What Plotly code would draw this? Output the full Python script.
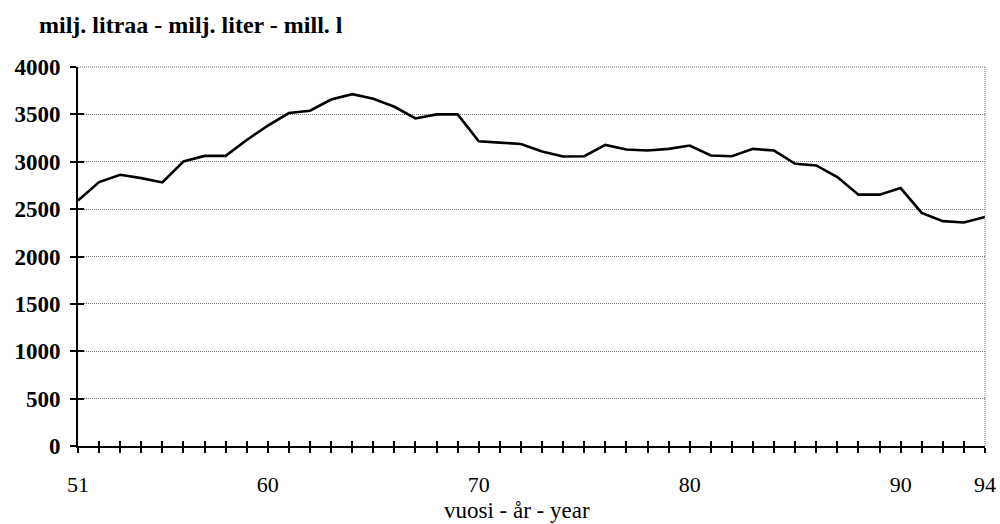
import plotly.graph_objects as go

years = list(range(1951, 1995))
values = [2590, 2785, 2863, 2827, 2782, 3003, 3062, 3062, 3230, 3381,
          3514, 3538, 3657, 3713, 3665, 3580, 3457, 3500, 3500, 3216,
          3202, 3188, 3108, 3055, 3058, 3178, 3129, 3118, 3136, 3171,
          3066, 3058, 3136, 3118, 2978, 2961, 2838, 2653, 2653, 2722,
          2460, 2373, 2359, 2418]
x_label_years = [1951, 1960, 1970, 1980, 1990, 1994]
y_ticks = [0, 500, 1000, 1500, 2000, 2500, 3000, 3500, 4000]

x_ticktext = [str(y % 100) if y in x_label_years else "" for y in years]

serif = "Liberation Serif, Times New Roman, serif"
grid_color = "#777777"

fig = go.Figure()
fig.add_trace(go.Scatter(x=years, y=values, mode="lines",
                         line=dict(color="black", width=2.6),
                         showlegend=False, hoverinfo="skip"))
# invisible copy to carry the inside-tick overlay axes
fig.add_trace(go.Scatter(x=years, y=values, mode="lines", xaxis="x2", yaxis="y2",
                         line=dict(color="black", width=1), opacity=0,
                         showlegend=False, hoverinfo="skip"))

common_x = dict(range=[1951, 1994], tickmode="array", tickvals=years, automargin=False,
                ticklen=5, tickwidth=2, tickcolor="black", zeroline=False)
common_y = dict(range=[0, 4000], tickmode="array", tickvals=y_ticks, automargin=False,
                ticklen=6, tickwidth=2, tickcolor="black", zeroline=False)

fig.update_layout(
    width=1000, height=524,
    margin=dict(l=78, r=15, t=67, b=78, autoexpand=False),
    paper_bgcolor="white", plot_bgcolor="white",
    xaxis=dict(**common_x, ticks="outside", ticktext=x_ticktext,
               showline=True, linecolor="black", linewidth=2,
               showgrid=False,
               tickfont=dict(family=serif, size=22, color="black"),
               ticklabelstandoff=13),
    yaxis=dict(**common_y, ticks="outside",
               showline=True, linecolor="black", linewidth=2,
               showgrid=True, gridcolor=grid_color, griddash="1px,1px", gridwidth=1,
               tickfont=dict(family=serif, size=23, color="black", weight="bold"),
               ticklabelstandoff=5),
    xaxis2=dict(**common_x, ticks="inside", overlaying="x", anchor="y2",
                showticklabels=False, showgrid=False, showline=False),
    yaxis2=dict(**common_y, ticks="inside", overlaying="y", anchor="x2",
                showticklabels=False, showgrid=False, showline=False),
    shapes=[
        dict(type="line", xref="paper", yref="paper", x0=1, x1=1, y0=0, y1=1,
             line=dict(color=grid_color, width=1, dash="1px,1px")),
        dict(type="line", xref="paper", yref="paper", x0=0, x1=1, y0=1, y1=1,
             line=dict(color=grid_color, width=1, dash="1px,1px")),
    ],
    annotations=[
        dict(text="<b>milj. litraa - milj. liter - mill. l</b>", xref="paper", yref="paper",
             x=-0.045, y=1.0, yshift=42, xanchor="left", yanchor="middle",
             showarrow=False, font=dict(family=serif, size=24, color="black")),
        dict(text="vuosi - år - year", xref="paper", yref="paper",
             x=0.484, y=0, yshift=-64, xanchor="center", yanchor="middle",
             showarrow=False, font=dict(family=serif, size=23, color="black")),
    ],
)

fig.write_html("out.html", config={"displayModeBar": False},
               post_script="document.body.style.margin='0';document.body.style.padding='0';")
